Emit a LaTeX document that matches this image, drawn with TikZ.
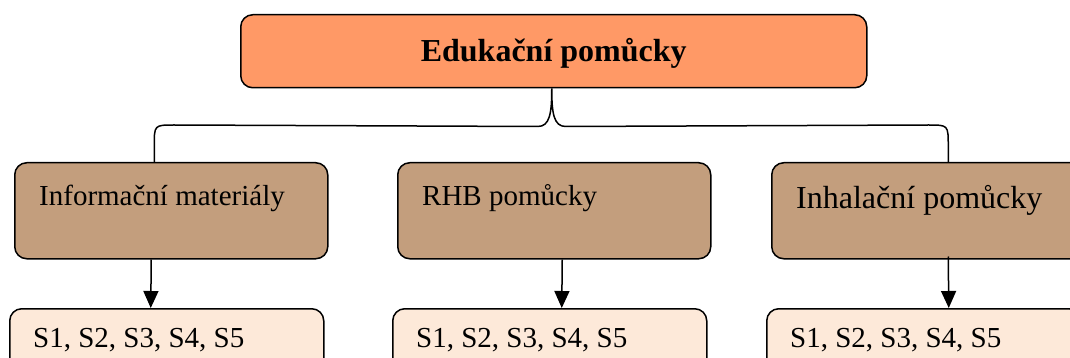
\documentclass[tikz,border=0pt]{standalone}
\usepackage{fontspec}
\setmainfont{Liberation Serif}
\usetikzlibrary{calc,arrows.meta}
\definecolor{headfill}{RGB}{255,153,102}
\definecolor{catfill}{RGB}{195,158,125}
\definecolor{itemfill}{RGB}{253,233,217}
\tikzset{
  box/.style={draw=black, line width=1.5pt, rounded corners=12pt, anchor=north west, inner sep=0pt},
  headbox/.style={box, fill=headfill, minimum width=626pt, minimum height=73pt},
  catbox/.style={box, fill=catfill, minimum width=313pt, minimum height=96pt},
  itembox/.style={box, fill=itemfill, minimum width=314pt, minimum height=90pt},
  lbl/.style={anchor=base west, inner sep=0pt, font=\fontsize{29}{34}\selectfont},
  link/.style={line width=1.5pt},
  arr/.style={link, -{Triangle[length=17pt, width=15pt]}}
}
\begin{document}
\begin{tikzpicture}[x=1pt, y=-1pt]
  \clip (0,0) rectangle (1070,358);
  \fill[white] (0,0) rectangle (1070,358);

  % top heading
  \node[headbox] (head) at (240,14) {};
  \node[anchor=base, inner sep=0pt, font=\fontsize{32}{38}\selectfont\bfseries] (headtxt)
    at ($(head.center)+(0,10)$) {Edukační pomůcky};

  % categories
  \node[catbox] (c1) at (14,162) {};
  \node[catbox] (c2) at (397,162) {};
  \node[catbox] (c3) at (771,162) {};
  \node[lbl] (c1t) at ($(c1.north west)+(25,43)$) {Informační materiály};
  \node[lbl] (c2t) at ($(c2.north west)+(25,43)$) {RHB pomůcky};
  \node[lbl, font=\fontsize{32}{38}\selectfont] (c3t) at ($(c3.north west)+(25,46)$) {Inhalační pomůcky};

  % items
  \node[itembox] (i1) at (9,308) {};
  \node[itembox] (i2) at (392,308) {};
  \node[itembox] (i3) at (766,308) {};
  \node[lbl] (i1t) at ($(i1.north west)+(24,39)$) {S1, S2, S3, S4, S5};
  \node[lbl] (i2t) at ($(i2.north west)+(24,39)$) {S1, S2, S3, S4, S5};
  \node[lbl] (i3t) at ($(i3.north west)+(24,39)$) {S1, S2, S3, S4, S5};

  % brace from the heading to the categories
  \coordinate (tip) at ($(head.south)+(-2,0)$);
  \coordinate (bl) at ($(c1.north)+(-17,0)$);
  \coordinate (br) at ($(c3.north)+(20,0)$);
  \draw[link] (bl) -- ++(0,-16)
    .. controls ($(bl)+(0,-37)$) .. ($(bl)+(20,-37)$)
    -- ($(tip)+(-14,38)$)
    .. controls ($(tip)+(-2,38)$) and ($(tip)+(0,25)$) .. (tip)
    .. controls ($(tip)+(0,25)$) and ($(tip)+(2,38)$) .. ($(tip)+(14,38)$)
    -- ($(br)+(-20,-37)$)
    .. controls ($(br)+(0,-37)$) .. ($(br)+(0,-16)$)
    -- (br);

  % arrows from categories to items
  \draw[arr] ($(c1.south)+(-20,0)$) -- ($(i1.north)+(-16,0)$);
  \draw[arr] ($(c2.south)+(8,0)$) -- ($(i2.north)+(12,0)$);
  \draw[arr] ($(c3.south)+(20,-3)$) -- ($(i3.north)+(25,0)$);
\end{tikzpicture}
\end{document}
